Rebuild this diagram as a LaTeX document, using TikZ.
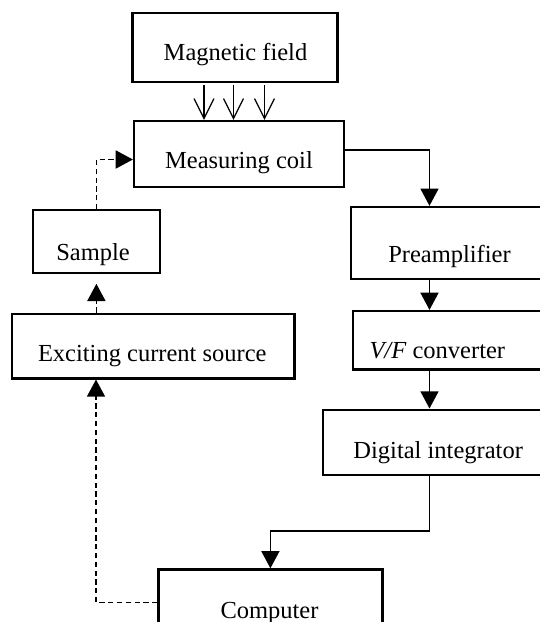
\documentclass[tikz,border=0pt]{standalone}
\usepackage{fontspec}
\setmainfont{Liberation Serif}
\usetikzlibrary{arrows.meta,calc}
\begin{document}
\begin{tikzpicture}[x=0.5pt,y=-0.5pt,
  box/.style={draw, line width=1.1pt, inner sep=0pt},
  txt/.style={inner sep=0pt, anchor=base, font=\fontsize{12.25}{14}\selectfont},
  arr/.style={line width=0.8pt, -{Triangle[width=9pt,length=8.6pt]}},
  darr/.style={line width=0.9pt, dash pattern=on 2.6pt off 1.8pt, -{Triangle[width=9pt,length=8.6pt]}},
  marr/.style={line width=0.6pt, -{Straight Barb[width=10pt,length=10pt,line width=0.6pt]}}]
\useasboundingbox (0,0) rectangle (540,622);
\fill[white] (0,0) rectangle (540,622);
\clip (0,0) rectangle (540,622);
% boxes
\node[box, minimum width=102.5pt, minimum height=34.5pt] (mag) at (235,47.2) {};
\node[box, minimum width=105pt, minimum height=33pt] (coil) at (239,154) {};
\node[box, minimum width=63.6pt, minimum height=31.4pt] (sample) at (96.4,241.7) {};
\node[box, minimum width=141.2pt, minimum height=32.4pt] (ecs) at (153.3,346) {};
\node[box, minimum width=104.7pt, minimum height=36.1pt] (pre) at (455.3,243) {};
\node[box, minimum width=103.5pt, minimum height=29.2pt] (vf) at (456.5,340.2) {};
\node[box, minimum width=118.5pt, minimum height=32.7pt] (di) at (441.5,442.3) {};
\node[box, minimum width=112pt, minimum height=40.3pt] (comp) at (270.4,609.7) {};
% texts
\node[txt] (magt) at (235.5,60.3) {Magnetic field};
\node[txt] (coilt) at (239,168.8) {Measuring coil};
\node[txt] (samplet) at (93,260.3) {Sample};
\node[txt] (ecst) at (152.3,361.9) {Exciting current source};
\node[txt] (pret) at (449.5,262) {Preamplifier};
\node[txt] (vft) at (437.3,358.4) {\textit{V/F} converter};
\node[txt] (dit) at (438.2,458.5) {Digital integrator};
\node[txt] (compt) at (269.5,618.7) {Computer};
% helper coordinates
\coordinate (m1) at (204,0);
\coordinate (m2) at (233.5,0);
\coordinate (m3) at (264.5,0);
\coordinate (rx) at (429.5,0);
\coordinate (lx) at (96,0);
\coordinate (bend) at (429.5,531);
% magnetic field arrows
\draw[marr] ([yshift=-1.2pt]m1 |- mag.south) -- (m1 |- coil.north);
\draw[marr] ([yshift=-1.2pt]m2 |- mag.south) -- (m2 |- coil.north);
\draw[marr] ([yshift=-1.2pt]m3 |- mag.south) -- (m3 |- coil.north);
% signal chain
\draw[arr] ([yshift=2pt]coil.east) -| (rx |- pre.north);
\draw[arr] (rx |- pre.south) -- (rx |- vf.north);
\draw[arr] (rx |- vf.south) -- (rx |- di.north);
\draw[arr] (rx |- di.south) -- (bend) -| (comp.north);
% excitation path
\draw[darr] ([yshift=3.6pt]comp.west) -| (lx |- ecs.south);
\draw[darr, shorten >=4.8pt] (sample.south |- ecs.north) -- (sample.south);
\draw[darr] (sample.north) |- ([yshift=-2.75pt]coil.west);
\end{tikzpicture}
\end{document}
